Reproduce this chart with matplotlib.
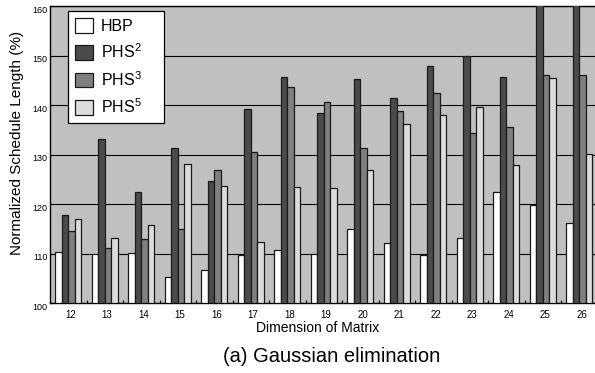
import numpy as np
import matplotlib.pyplot as plt
from matplotlib.transforms import ScaledTranslation

plt.rcParams['font.family'] = ['Liberation Sans', 'DejaVu Sans']
plt.rcParams['mathtext.fontset'] = 'custom'
plt.rcParams['mathtext.rm'] = 'Liberation Sans'

# 数据
dims = [12, 13, 14, 15, 16, 17, 18, 19, 20, 21, 22, 23, 24, 25, 26]
hbp = [110.4, 109.8, 110.2, 105.2, 106.7, 109.6, 110.7, 109.9, 114.9, 112.1, 109.7, 113.1, 122.4, 119.8, 116.1]
phs2 = [117.8, 133.1, 122.4, 131.3, 124.7, 139.2, 145.7, 138.3, 145.2, 141.4, 147.9, 150.0, 145.7, 163.0, 163.0]
phs3 = [114.5, 111.2, 112.9, 115.0, 126.9, 130.6, 143.7, 140.7, 131.3, 138.7, 142.5, 134.4, 135.6, 146.1, 146.1]
phs5 = [116.9, 113.1, 115.8, 128.0, 123.6, 112.3, 123.5, 123.3, 126.9, 136.1, 137.9, 139.6, 127.8, 145.4, 130.2]
names = ['HBP', r'PHS$\mathregular{^2}$', r'PHS$\mathregular{^3}$', r'PHS$\mathregular{^5}$']
colors = ['#ffffff', '#4b4b4b', '#7f7f7f', '#dcdcdc']

fig = plt.figure(figsize=(5.95, 3.73), dpi=100)
ax = fig.add_axes([50 / 595, 1 - 303 / 373, 547.6 / 595, 297 / 373])
ax.set_facecolor('#c0c0c0')

x = np.arange(len(dims))
w = 0.18
series = [hbp, phs2, phs3, phs5]
for i, ys in enumerate(series):
    off = (i - 1.5) * w
    ax.bar(x + off, np.array(ys) - 100, w, bottom=100, color=colors[i],
           edgecolor='#1a1a1a', linewidth=0.9, label=names[i], zorder=3)

ax.set_xlim(-0.5, 14.5)
ax.set_ylim(100, 160)
ax.set_yticks(range(100, 161, 10))
ax.yaxis.grid(True, color='black', linewidth=0.8, zorder=1)
ax.set_axisbelow(True)

ax.set_xticks(x + 0.06)
ax.set_xticklabels([str(d) for d in dims], fontsize=7)
ax.set_xticks(x[:-1] + 0.5, minor=True)
ax.tick_params(axis='x', which='major', length=0, pad=5)
ax.tick_params(axis='x', which='minor', direction='in', length=2.2, width=0.8)
ax.tick_params(axis='y', direction='in', length=2.2, labelsize=6.5, pad=2)
for lab in ax.get_yticklabels():
    lab.set_transform(lab.get_transform() + ScaledTranslation(0, -2.2 / 72, fig.dpi_scale_trans))

for s in ['left', 'bottom', 'top']:
    ax.spines[s].set_linewidth(1.0)
    ax.spines[s].set_color('black')
ax.spines['right'].set_visible(False)

ax.set_xlabel('Dimension of Matrix', fontsize=10, va='center')
ax.xaxis.set_label_coords((317.5 - 50) / 547.6, -(328 - 303) / 297)
fig.text(17.5 / 595, 1 - 143 / 373, 'Normalized Schedule Length (%)', rotation=90,
         ha='center', va='center', fontsize=11)
fig.text(331.5 / 595, 1 - 357 / 373, '(a) Gaussian elimination', ha='center', va='center', fontsize=14.5)

leg = ax.legend(loc='upper left', bbox_to_anchor=(68.3 / 595, 1 - 125 / 373, 96 / 595, 114 / 373),
                bbox_transform=fig.transFigure, borderaxespad=0, fontsize=11.5, mode='expand',
                handlelength=1.1, handleheight=1.05, handletextpad=0.5,
                labelspacing=0.55, borderpad=0.42, fancybox=False,
                framealpha=1, edgecolor='black')
leg.get_frame().set_linewidth(0.9)
leg.set_zorder(5)

fig.savefig('out.png', dpi=100)
